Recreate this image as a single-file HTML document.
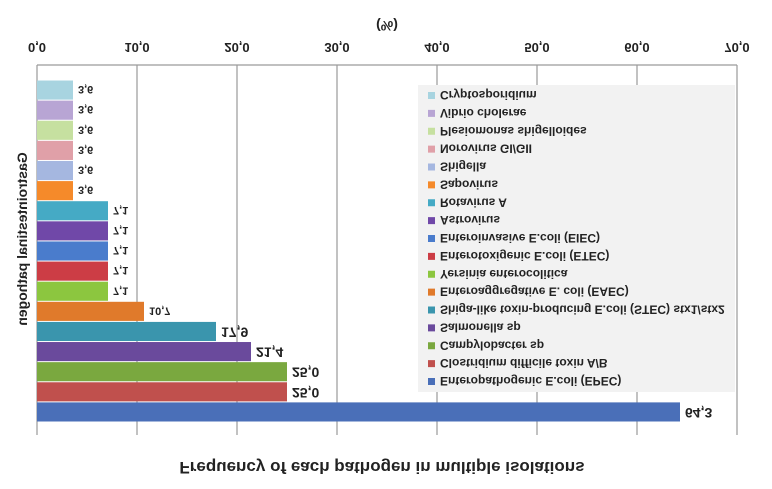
<!DOCTYPE html>
<html><head><meta charset="utf-8"><style>
html,body{margin:0;padding:0;background:#fff;}
svg{display:block;font-family:"Liberation Sans",sans-serif;}
</style></head><body>
<svg id="chart" width="772" height="489" viewBox="0 0 772 489">
<g id="flip" transform="translate(0,489) scale(1,-1)"></g>
</svg>
<script>
const categories=["Enteropathogenic E.coli (EPEC)","Clostridium difficile toxin A/B","Campylobacter sp","Salmonella sp","Shiga-like toxin-producing E.coli (STEC) stx1/stx2","Enteroaggregative E. coli (EAEC)","Yersinia enterocolitica","Enterotoxigenic E.coli (ETEC)","Enteroinvasive E.coli (EIEC)","Astrovirus","Rotavirus A","Sapovirus","Shigella","Norovirus GI/GII","Plesiomonas shigelloides","Vibrio cholerae","Cryptosporidium"];
const values=[64.3,25.0,25.0,21.4,17.9,10.7,7.1,7.1,7.1,7.1,7.1,3.6,3.6,3.6,3.6,3.6,3.6];
const tickValues=[0,10,20,30,40,50,60,70];
const colors=["#4a6fb8","#c0504d","#7aa83f","#6a4a9c","#3a95ad","#e07a2b","#8cc63f","#cc3d45","#4a7ccc","#7048a8","#45aac5","#f58a2a","#a5b7e0","#e0a0a8","#c6e0a0","#b8a5d4","#a8d4e0"];
const NS="http://www.w3.org/2000/svg";
const g=document.getElementById('flip');
const x0=37,x1=737,xMax=70,yTop=67,yBot=409,axisY=424;
const xs=v=>x0+(v/xMax)*(x1-x0);
const band=(yBot-yTop)/categories.length;
const ys=i=>yTop+i*band;
function mk(tag,attrs,txt){const e=document.createElementNS(NS,tag);for(const k in attrs)e.setAttribute(k,attrs[k]);if(txt!==undefined)e.textContent=txt;g.appendChild(e);return e;}
const fmt=v=>v.toFixed(1).replace('.',',');
// gridlines & ticks
tickValues.forEach(t=>{
 const l=mk('line',{x1:xs(t),x2:xs(t),y1:54,y2:axisY,stroke:'#9a9a9a','stroke-width':1.2});
 
 
 const tx=mk('text',{x:xs(t),y:446,'text-anchor':'middle','font-size':13,'font-weight':'bold',fill:'#222'},fmt(t));
 
 
});
const ax=mk('line',{x1:x0,x2:x1,y1:axisY,y2:axisY,stroke:'#9a9a9a','stroke-width':1.2});


const xt=mk('text',{x:387,y:468,'text-anchor':'middle','font-size':14,'font-weight':'bold',fill:'#222'},'(%)');


// legend box
const lb=mk('rect',{x:418,y:97,width:317,height:307,fill:'#f2f2f2'});


// bars
values.forEach((v,i)=>{
 const r=mk('rect',{x:x0,y:ys(i)+0.5,width:xs(v)-x0,height:band-1,fill:colors[i]});
 
 
 const big=v>15;
 const t=mk('text',{x:xs(v)+5,y:ys(i)+band/2+4,'font-size':big?14:11,'font-weight':'bold',fill:'#222'},fmt(v));
 
 
 const ly=108+i*(394-108)/(categories.length-1);
 const sq=mk('rect',{x:428,y:ly-4,width:7,height:7,fill:colors[i]});
 
 
 const lt=mk('text',{x:440,y:ly+4,'font-size':12,'font-weight':'bold',fill:'#222'},categories[i]);
 
 
});
const title=mk('text',{x:382,y:27,'text-anchor':'middle','font-size':17,'font-weight':'bold',fill:'#222'},'Frequency of each pathogen in multiple isolations');


const yt=mk('text',{x:0,y:0,'text-anchor':'middle','font-size':14,'font-weight':'bold',fill:'#222',transform:'translate(27,250) rotate(-90)'},'Gastrointestinal pathogen');


</script>
</body></html>
